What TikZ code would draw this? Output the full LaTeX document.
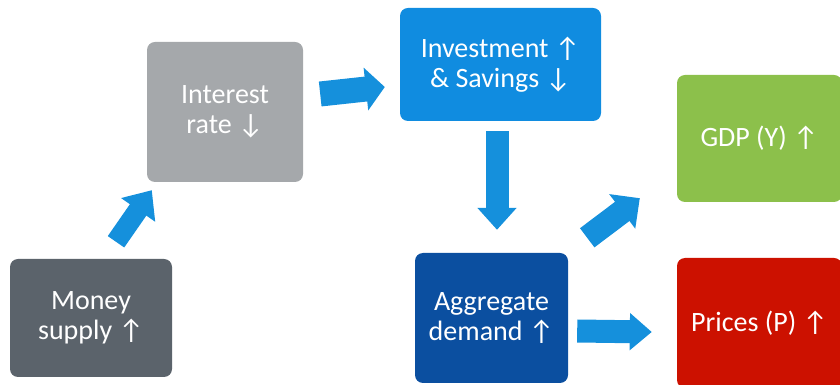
\documentclass[tikz,border=0pt]{standalone}
\usepackage{fontspec}
\setmainfont{Carlito}
\usetikzlibrary{arrows.meta}

\definecolor{moneygray}{HTML}{5B636B}
\definecolor{rategray}{HTML}{A5A8AB}
\definecolor{investblue}{HTML}{108CE0}
\definecolor{flowblue}{HTML}{1590DC}
\definecolor{gdpgreen}{HTML}{8CC04B}
\definecolor{demandblue}{HTML}{0B4FA0}
\definecolor{pricered}{HTML}{CC1100}

\tikzset{
  stage/.style={rounded corners=8pt,inner sep=0pt,align=center,
    text=white,font=\fontsize{28}{30}\selectfont},
  flow/.style={draw=flowblue,line width=#1}
}

\begin{document}
\begin{tikzpicture}[x=1pt,y=1pt]
  \clip (0,0) rectangle (840,385);

  % The six stages of the transmission chain.
  \node[stage,fill=moneygray,minimum width=162pt,minimum height=118pt]
    (money) at (91,67) {Money\\supply ↑};
  \node[stage,fill=rategray,minimum width=156pt,minimum height=140pt]
    (rate) at (225,273) {Interest\\rate ↓};
  \node[stage,fill=investblue,minimum width=201pt,minimum height=113pt]
    (invest) at (500.5,320.5) {Investment ↑\\\& Savings ↓};
  \node[stage,fill=gdpgreen,minimum width=165pt,minimum height=127pt]
    (gdp) at (759.5,246.5) {GDP (Y) ↑};
  \node[stage,fill=demandblue,minimum width=153pt,minimum height=130pt]
    (demand) at (491.5,67) {Aggregate\\demand ↑};
  \node[stage,fill=pricered,minimum width=165pt,minimum height=130pt]
    (prices) at (759.5,62) {Prices (P) ↑};

  % Block arrows between the stages.
  \draw[flow=20pt,-{Triangle[width=40pt,length=24pt]}]
    ([shift={(25,17)}]money.north) -- ([shift={(5,-8)}]rate.south west);
  \draw[flow=25pt,-{Triangle[width=42pt,length=19pt]}]
    ([shift={(17,18)}]rate.east) -- ([shift={(-15,-22.5)}]invest.west);
  \draw[flow=23pt,-{Triangle[width=38pt,length=22pt]}]
    ([shift={(-3.5,-10)}]invest.south) -- ([shift={(5.5,23)}]demand.north);
  \draw[flow=24pt,-{Triangle[width=42pt,length=22pt]}]
    ([shift={(19,15)}]demand.north east) -- ([shift={(-37,4)}]gdp.south west);
  \draw[flow=23pt,-{Triangle[width=36pt,length=22pt]}]
    ([shift={(9,-13)}]demand.east) -- ([shift={(-25,-9)}]prices.west);
\end{tikzpicture}
\end{document}
